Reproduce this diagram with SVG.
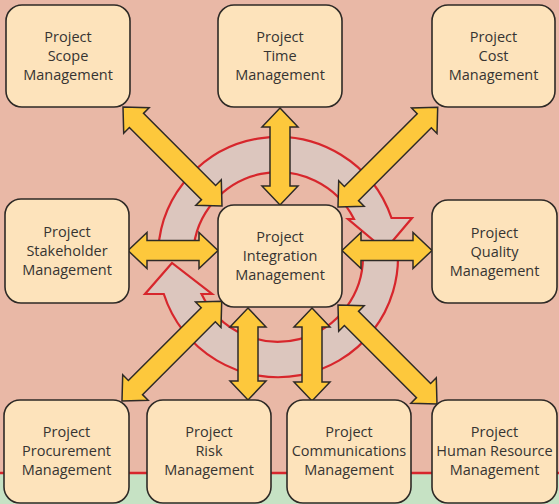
<svg xmlns="http://www.w3.org/2000/svg" width="559" height="504" viewBox="0 0 559 504">
<defs>
<style>
.bg{fill:#e9b8a6}
.ground{fill:#c6e2c4}
.redline{stroke:#d7262c;stroke-width:2.5;fill:none}
.ring{fill:#dcc6be;stroke:#d7262c;stroke-width:2.2;stroke-linejoin:miter}
.arr{fill:#fdc83c;stroke:#2e2a26;stroke-width:1.5;stroke-linejoin:miter}
.box{fill:#fde3bb;stroke:#2e2a26;stroke-width:1.6}
.lbl{font-family:"Open Sans","Noto Sans","Liberation Sans",sans-serif;font-size:14.5px;fill:#363432;text-anchor:middle}
</style>
</defs>
<rect class="bg" x="0" y="0" width="559" height="473"/>
<rect class="ground" x="0" y="473" width="559" height="31"/>
<line class="redline" x1="0" y1="473" x2="559" y2="473"/>

<g id="cycle">
<path class="ring" d="M158.2,249.9 A120,120 0 0 1 391.5,218 L412,218 L385,250 L348,219 L354,219 A85,85 0 0 0 193.2,252 Z"/>
<path class="ring" d="M397.8,249.9 A120,120 0 0 1 163.8,294 L145,294 L172,263 L212,294 L201.5,294 A85,85 0 0 0 362.8,252 Z"/>
</g>

<g id="connectors">
<polygon class="arr" transform="translate(123,107) rotate(45)" points="0,0 19,-18 19,-10 121,-10 121,-18 140,0 121,18 121,10 19,10 19,18"/>
<polygon class="arr" transform="translate(280,108) rotate(90)" points="0,0 19,-18 19,-10 78,-10 78,-18 97,0 78,18 78,10 19,10 19,18"/>
<polygon class="arr" transform="translate(338,207) rotate(-45)" points="0,0 19,-18 19,-10 122,-10 122,-18 141,0 122,18 122,10 19,10 19,18"/>
<polygon class="arr" transform="translate(128,250.5)" points="0,0 19,-18 19,-10 71,-10 71,-18 90,0 71,18 71,10 19,10 19,18"/>
<polygon class="arr" transform="translate(342,250.5)" points="0,0 19,-18 19,-10 71,-10 71,-18 90,0 71,18 71,10 19,10 19,18"/>
<polygon class="arr" transform="translate(122,401) rotate(-45)" points="0,0 19,-18 19,-10 122,-10 122,-18 141,0 122,18 122,10 19,10 19,18"/>
<polygon class="arr" transform="translate(248,308) rotate(90)" points="0,0 19,-18 19,-10 73,-10 73,-18 92,0 73,18 73,10 19,10 19,18"/>
<polygon class="arr" transform="translate(312,308) rotate(90)" points="0,0 19,-18 19,-10 74,-10 74,-18 93,0 74,18 74,10 19,10 19,18"/>
<polygon class="arr" transform="translate(338,305) rotate(45)" points="0,0 19,-18 19,-10 121,-10 121,-18 140,0 121,18 121,10 19,10 19,18"/>
</g>

<g id="scope"><rect class="box" x="6" y="5" width="124" height="102" rx="16"/>
<text class="lbl" x="68" y="42">Project</text><text class="lbl" x="68" y="61">Scope</text><text class="lbl" x="68" y="80">Management</text></g>
<g id="time"><rect class="box" x="218" y="5" width="124" height="102" rx="16"/>
<text class="lbl" x="280" y="42">Project</text><text class="lbl" x="280" y="61">Time</text><text class="lbl" x="280" y="80">Management</text></g>
<g id="cost"><rect class="box" x="432" y="5" width="123" height="102" rx="16"/>
<text class="lbl" x="493.5" y="42">Project</text><text class="lbl" x="493.5" y="61">Cost</text><text class="lbl" x="493.5" y="80">Management</text></g>
<g id="stakeholder"><rect class="box" x="5" y="199" width="124" height="104" rx="16"/>
<text class="lbl" x="67" y="237">Project</text><text class="lbl" x="67" y="256">Stakeholder</text><text class="lbl" x="67" y="275">Management</text></g>
<g id="quality"><rect class="box" x="432" y="200" width="125" height="103" rx="16"/>
<text class="lbl" x="494.5" y="237.5">Project</text><text class="lbl" x="494.5" y="256.5">Quality</text><text class="lbl" x="494.5" y="275.5">Management</text></g>
<g id="integration"><rect class="box" x="218" y="205" width="124" height="102" rx="16"/>
<text class="lbl" x="280" y="242">Project</text><text class="lbl" x="280" y="261">Integration</text><text class="lbl" x="280" y="280">Management</text></g>
<g id="procurement"><rect class="box" x="4" y="400" width="125" height="103" rx="16"/>
<text class="lbl" x="66.5" y="437">Project</text><text class="lbl" x="66.5" y="456">Procurement</text><text class="lbl" x="66.5" y="475">Management</text></g>
<g id="risk"><rect class="box" x="147" y="400" width="124" height="103" rx="16"/>
<text class="lbl" x="209" y="437">Project</text><text class="lbl" x="209" y="456">Risk</text><text class="lbl" x="209" y="475">Management</text></g>
<g id="communications"><rect class="box" x="287" y="400" width="124" height="103" rx="16"/>
<text class="lbl" x="349" y="437">Project</text><text class="lbl" x="349" y="456">Communications</text><text class="lbl" x="349" y="475">Management</text></g>
<g id="humanresource"><rect class="box" x="432" y="400" width="125" height="103" rx="16"/>
<text class="lbl" x="494.5" y="437">Project</text><text class="lbl" x="494.5" y="456">Human Resource</text><text class="lbl" x="494.5" y="475">Management</text></g>
</svg>
